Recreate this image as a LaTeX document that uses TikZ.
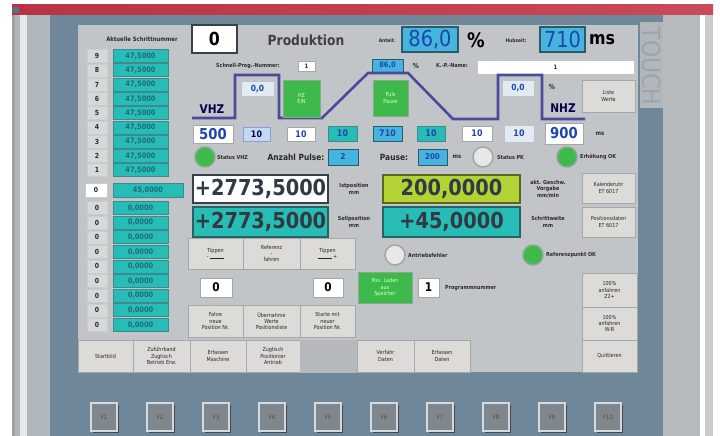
\documentclass[tikz,border=0pt]{standalone}
\usepackage{fontspec}
\setmainfont{DejaVu Sans}[FakeStretch=0.88]
\usetikzlibrary{shadows}
\newcommand\fs[1]{\fontsize{#1}{1.15\dimexpr #1pt\relax}\selectfont}
\newcommand\pbox[7]{\node[#2,minimum width={(#5)-(#3)},minimum height={(#6)-(#4)}] (#1) at ({((#3)+(#5))/2},{((#4)+(#6))/2}) {#7};}
\definecolor{win}{HTML}{B3B9BE}
\definecolor{winl}{HTML}{B0B7BC}
\definecolor{bgblue}{HTML}{6F8799}
\definecolor{panel}{HTML}{C2C5C7}
\definecolor{touchbg}{HTML}{B2B7BB}
\definecolor{touchc}{HTML}{9DA5AC}
\definecolor{rightg}{HTML}{B7BBBE}
\definecolor{rightg2}{HTML}{C9CDD0}
\definecolor{titA}{HTML}{B83444}
\definecolor{titM}{HTML}{DE6F7E}
\definecolor{titB}{HTML}{C94A5A}
\definecolor{iconc}{HTML}{5A7090}
\definecolor{tealf}{HTML}{27BDB6}
\definecolor{tealb}{HTML}{3C8A8C}
\definecolor{tealt}{HTML}{1F6A7A}
\definecolor{cyanf}{HTML}{45B5DD}
\definecolor{cyanb}{HTML}{2C5A6C}
\definecolor{bluet}{HTML}{1D45B0}
\definecolor{grn}{HTML}{3DBA4A}
\definecolor{grnb}{HTML}{8AA894}
\definecolor{ygrn}{HTML}{B2D236}
\definecolor{btnf}{HTML}{DCDBD7}
\definecolor{btnb}{HTML}{A4A8AB}
\definecolor{labc}{HTML}{2A2A2A}
\definecolor{prof}{HTML}{4C4A9C}
\definecolor{fkey}{HTML}{7F878D}
\definecolor{fkeyb}{HTML}{D5DADE}
\definecolor{darkb}{HTML}{37414A}
\definecolor{palebl}{HTML}{E2EBF3}
\definecolor{selbl}{HTML}{C4D9EE}
\definecolor{gapg}{HTML}{B5B9BC}
\definecolor{numf}{HTML}{D6D8D9}
\tikzset{
  lab/.style={font=\fs{7}, text=labc, inner sep=0, align=center},
  blab/.style={font=\fs{8.5}\bfseries, text=labc, inner sep=0},
  btn/.style={draw=btnb, fill=btnf, line width=0.6pt, inner sep=0, font=\fs{5.5}, text=black!85, align=center},
  gbtn/.style={draw=grnb, fill=grn, line width=0.6pt, inner sep=0, font=\fs{5.5}, text=white!85!green, align=center},
  tealbox/.style={fill=tealf, draw=tealb, line width=0.5pt, inner sep=0, font=\fs{7.5}\bfseries, text=tealt},
  cyanbox/.style={fill=cyanf, draw=cyanb, line width=0.5pt, inner sep=0, font=\fs{8}\bfseries, text=bluet},
  whitebox/.style={fill=white, draw=gray!70, line width=0.5pt, inner sep=0, font=\fs{8.5}\bfseries, text=bluet},
  numlab/.style={fill=numf, draw=gray!40, line width=0.4pt, inner sep=0, font=\fs{7}\bfseries, text=labc},
  bigbox/.style={line width=1.3pt, draw=darkb, inner sep=0, font=\fs{22}\bfseries, text=darkb!90!black},
  lamp/.style={circle, minimum size=20, inner sep=0, line width=1.5pt},
  lampon/.style={lamp, fill=grn, draw=grnb},
  lampoff/.style={lamp, fill=white!82!gray, draw=gray!70},
  slab/.style={font=\fs{5.5}\bfseries, text=labc, inner sep=0, align=center},
  fkeybox/.style={fill=fkey, draw=fkeyb, line width=1.4pt, inner sep=0, font=\fs{6}, text=black!70,
    drop shadow={shadow xshift=1.5pt, shadow yshift=-1.5pt, opacity=0.7, fill=black!80}},
  profile/.style={draw=prof, line width=2.6pt, line join=miter}
}
\begin{document}
\begin{tikzpicture}[x=1pt,y=-1pt]
\useasboundingbox (0,0) rectangle (720,436);
% window background
\fill[white] (0,0) rectangle (720,436);
\fill[win] (12,15) rectangle (713,436);
\fill[winl] (12,15) rectangle (50,436);
\fill[white!70!winl] (20,15) rectangle (27,436);
\fill[gray!75] (12,15) rectangle (15,436);
\fill[bgblue] (50,15) rectangle (663,436);
\fill[touchbg] (640,22) rectangle (663,108);
\fill[rightg] (663,15) rectangle (700,436);
\fill[white] (700,15) rectangle (705,436);
\fill[rightg2] (705,15) rectangle (713,436);
\shade[left color=titA, middle color=titM, right color=titB] (12,5) rectangle (713,15);
\fill[iconc] (13,7) rectangle (19,13);
\fill[panel] (78,25) rectangle (638,372);
\node[font=\fs{25}, text=touchc, rotate=-90] (touch) at (652,66) {TOUCH};

% step list
\node[slab, font=\fs{6}\bfseries] (schrlab) at (142,39) {Aktuelle Schrittnummer};
\pbox{schr}{fill=white, draw=darkb, line width=1.3pt, inner sep=0, font=\fs{18}\bfseries, text=black}{192}{25}{237}{53}{0}
\foreach \n [count=\i from 0, evaluate=\i as \y using 56+14.25*\i] in {9,8,...,1}{
  \pbox{rl\n}{numlab}{87}{\y-6.5}{107}{\y+6.5}{\n}
  \pbox{rv\n}{tealbox}{113}{\y-6.5}{168}{\y+6.5}{47,5000}
}
\pbox{r0l}{numlab, fill=white}{85}{183}{107}{197}{0}
\pbox{r0v}{tealbox}{113}{183}{183}{197}{45,0000}
\foreach \i [evaluate=\i as \y using 208+14.6*(\i-1)] in {1,...,9}{
  \pbox{bl\i}{numlab}{87}{\y-6.5}{107}{\y+6.5}{0}
  \pbox{bv\i}{tealbox}{113}{\y-6.5}{168}{\y+6.5}{0,0000}
}

% header
\node[font=\fs{14}\bfseries, text=black!75] (prod) at (306,40) {Produktion};
\node[slab, font=\fs{5}\bfseries] (tlab) at (387,41) {Anteil:};
\pbox{proz}{cyanbox, line width=1.3pt, font=\fs{22}, text=bluet}{402}{27}{458}{52}{86,0}
\node[font=\fs{20}\bfseries, text=black, inner sep=0] (pct) at (476,40) {\%};
\node[slab, font=\fs{5}\bfseries] (hlab) at (516,41) {Hubzeit:};
\pbox{hub}{cyanbox, line width=1.3pt, font=\fs{22}, text=bluet}{540}{27}{585}{52}{710}
\node[font=\fs{18}\bfseries, text=black, inner sep=0] (ms1) at (602,40) {ms};

\node[slab] (snlab) at (248,66) {Schnell-Prog.-Nummer:};
\pbox{snr}{whitebox, font=\fs{6}\bfseries, text=labc}{298}{61}{315}{71}{1}
\pbox{proz2}{cyanbox, font=\fs{7.5}\bfseries}{372}{59}{403}{72}{86,0}
\node[font=\fs{7}\bfseries, text=labc, inner sep=0] (pct2) at (416,66) {\%};
\node[slab] (kplab) at (452,66) {K.-P.-Name:};
\pbox{kpname}{whitebox, draw=white, font=\fs{6}\bfseries, text=labc}{478}{61}{633}{73}{1}

% profile
\draw[profile] (192,118) -- (235,118) -- (235,75) -- (279,75) -- (279,118) -- (322,118)
  -- (368,73) -- (408,73) -- (453,119) -- (498,119) -- (498,75) -- (542,75) -- (542,119) -- (585,119);
\node[font=\fs{12}\bfseries, text=black!70!blue, inner sep=0] (vhz) at (212,109) {VHZ};
\node[font=\fs{12}\bfseries, text=black!70!blue, inner sep=0] (nhz) at (563,108) {NHZ};
\pbox{vproz}{whitebox, fill=palebl, draw=palebl}{242}{82}{273}{95}{0,0}
\pbox{hzein}{gbtn}{283}{80}{320}{117}{HZ\\EIN}
\pbox{puls}{gbtn}{373}{80}{408}{116}{Puls\\Pause}
\pbox{nproz}{whitebox, fill=palebl, draw=palebl}{503}{81}{533}{95}{0,0}
\node[font=\fs{7}\bfseries, text=labc, inner sep=0] (pct3) at (552,87) {\%};
\pbox{liste}{btn}{582}{80}{635}{112}{Liste\\Werte}

% value row
\pbox{v500}{whitebox, font=\fs{15}\bfseries}{193}{125}{233}{143}{500}
\pbox{v10a}{whitebox, fill=selbl, draw=selbl!70!blue, font=\fs{9}\bfseries, text=black!60!blue}{243}{127}{270}{141}{10}
\pbox{v10b}{whitebox, font=\fs{9}\bfseries}{287}{127}{315}{141}{10}
\pbox{v10c}{tealbox, font=\fs{9}\bfseries, text=bluet}{328}{126}{357}{141}{10}
\pbox{v710}{cyanbox, font=\fs{9}\bfseries}{373}{126}{402}{141}{710}
\pbox{v10d}{tealbox, font=\fs{9}\bfseries, text=bluet}{417}{126}{445}{141}{10}
\pbox{v10e}{whitebox, font=\fs{9}\bfseries}{462}{126}{492}{141}{10}
\pbox{v10f}{whitebox, fill=palebl, draw=palebl, font=\fs{9}\bfseries}{505}{126}{533}{141}{10}
\pbox{v900}{whitebox, font=\fs{15}\bfseries}{545}{123}{583}{144}{900}
\node[slab, font=\fs{6}\bfseries] (ms2) at (600,134) {ms};

% status row
\node[lampon] (lvhz) at (205,157) {};
\node[slab, anchor=west] (svhz) at (217,157) {Status VHZ};
\node[blab] (anz) at (296,157) {Anzahl Pulse:};
\pbox{anzv}{cyanbox}{328}{149}{358}{165}{2}
\node[blab] (pause) at (394,157) {Pause:};
\pbox{pausev}{cyanbox}{418}{149}{447}{165}{200}
\node[slab, font=\fs{6}\bfseries] (ms3) at (457,157) {ms};
\node[lampoff] (lpk) at (483,157) {};
\node[slab, anchor=west] (spk) at (497,157) {Status PK};
\node[lampon] (lerh) at (567,157) {};
\node[slab, anchor=west] (serh) at (580,157) {Erhöhung OK};

% big displays
\pbox{ist}{bigbox, fill=white}{193}{175}{328}{203}{+2773,5000}
\node[slab] (istl) at (354,189) {Istposition\\mm};
\pbox{soll}{bigbox, fill=tealf, draw=tealb!70!black}{193}{207}{328}{237}{+2773,5000}
\node[slab] (solll) at (354,222) {Sollposition\\mm};
\pbox{gesch}{bigbox, fill=ygrn, draw=ygrn!50!black}{383}{175}{520}{203}{200,0000}
\node[slab] (geschl) at (548,189) {akt. Geschw.\\Vorgabe\\mm/min};
\pbox{schw}{bigbox, fill=tealf, draw=tealb!70!black}{383}{207}{520}{237}{+45,0000}
\node[slab] (schwl) at (548,222) {Schrittweite\\mm};
\pbox{kal}{btn}{582}{173}{635}{203}{Kalenderuhr\\ET 6017}
\pbox{posd}{btn}{582}{207}{635}{237}{Positionsdaten\\ET 6017}

% jog row
\pbox{tipm}{btn}{188}{238}{243}{269}{Tippen\\- \rule[0.6pt]{14pt}{0.3pt}}
\pbox{ref}{btn}{243}{238}{300}{269}{Referenz\\-\\fahren}
\pbox{tipp}{btn}{300}{238}{355}{269}{Tippen\\\rule[0.6pt]{14pt}{0.3pt} +}
\node[lampoff] (lant) at (395,255) {};
\node[slab, anchor=west] (antl) at (408,255) {Antriebsfehler};
\node[lampon] (lref) at (533,255) {};
\node[slab, anchor=west] (refl) at (546,255) {Referenzpunkt OK};

% program row
\pbox{z1}{whitebox, font=\fs{12}\bfseries, text=black}{200}{278}{232}{297}{0}
\pbox{z2}{whitebox, font=\fs{12}\bfseries, text=black}{313}{278}{343}{297}{0}
\pbox{laden}{gbtn}{358}{272}{412}{303}{Pos. Laden\\aus\\Speicher}
\pbox{prg}{whitebox, font=\fs{12}\bfseries, text=black}{418}{278}{439}{297}{1}
\node[slab, anchor=west] (prgl) at (445,288) {Programmnummer};
\pbox{anf1}{btn}{582}{273}{637}{307}{100\%\\anfahren\\Z2+}
\pbox{anf2}{btn}{582}{307}{637}{340}{100\%\\anfahren\\W-B}

\pbox{fahr}{btn}{188}{305}{243}{337}{Fahre\\neue\\Position Nr.}
\pbox{uebern}{btn}{243}{305}{300}{337}{Übernahme\\Werte\\Positionsliste}
\pbox{start}{btn}{300}{305}{355}{337}{Starte mit\\neuer\\Position Nr.}

% bottom menu
\pbox{m1}{btn}{78}{340}{133}{372}{Startbild}
\pbox{m2}{btn}{133}{340}{190}{372}{Zuführband\\Zugtisch\\Betrieb Erw.}
\pbox{m3}{btn}{190}{340}{246}{372}{Erfassen\\Maschine}
\pbox{m4}{btn}{246}{340}{300}{372}{Zugtisch\\Positionier\\Antrieb}
\pbox{m5}{btn, fill=gapg, draw=gapg}{300}{340}{357}{372}{}
\pbox{m6}{btn}{357}{340}{414}{372}{Verfahr\\Daten}
\pbox{m7}{btn}{414}{340}{470}{372}{Erfassen\\Daten}
\pbox{m8}{btn}{582}{340}{637}{372}{Quittieren}

% function keys
\foreach \i in {1,...,10}{
  \pbox{f\i}{fkeybox}{91+56*(\i-1)}{403}{117+56*(\i-1)}{431}{F\i}
}
\end{tikzpicture}
\end{document}
